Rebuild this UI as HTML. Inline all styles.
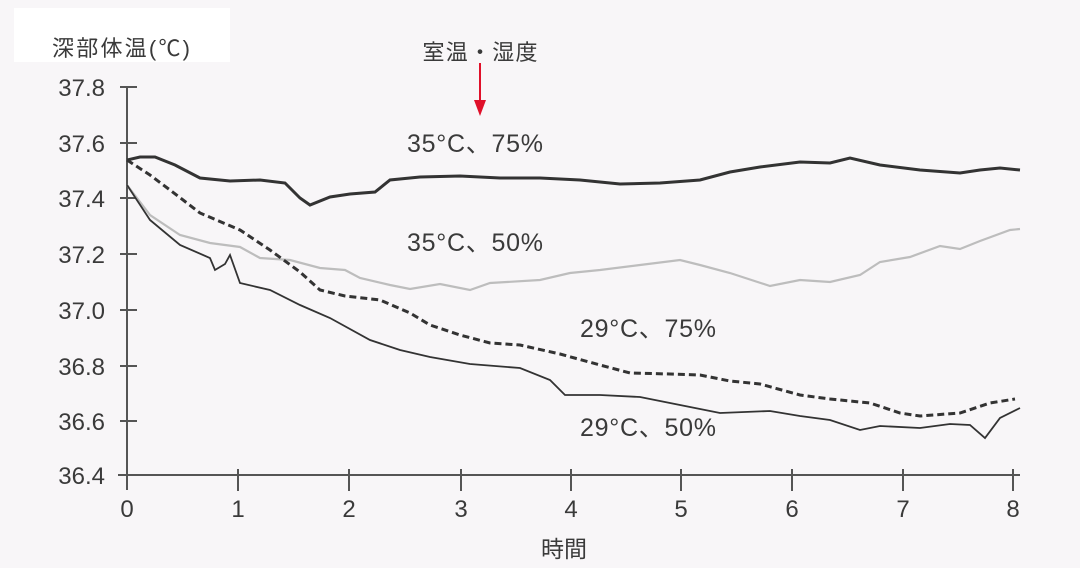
<!DOCTYPE html>
<html><head><meta charset="utf-8"><style>
html,body{margin:0;padding:0;background:#f8f6f8;}
svg{display:block;}
text{font-family:"Liberation Sans","Noto Sans CJK JP",sans-serif;fill:#3a3a3a;}
</style></head><body>
<svg width="1080" height="568" viewBox="0 0 1080 568" xmlns="http://www.w3.org/2000/svg">
<rect x="0" y="0" width="1080" height="568" fill="#f8f6f8"/>
<rect x="14" y="8" width="216" height="54" fill="#ffffff"/>
<text x="52" y="56" font-size="22" textLength="138">深部体温(℃)</text>
<g stroke="#555" stroke-width="2" fill="none">
<line x1="127" y1="87" x2="127" y2="490"/>
<line x1="118" y1="475" x2="1020" y2="475"/>
<line x1="120" y1="87" x2="137" y2="87"/>
<line x1="120" y1="143" x2="137" y2="143"/>
<line x1="120" y1="198" x2="137" y2="198"/>
<line x1="120" y1="254" x2="137" y2="254"/>
<line x1="120" y1="310" x2="137" y2="310"/>
<line x1="120" y1="366" x2="137" y2="366"/>
<line x1="120" y1="421" x2="137" y2="421"/>
<line x1="238" y1="469" x2="238" y2="491"/>
<line x1="349" y1="469" x2="349" y2="491"/>
<line x1="461" y1="469" x2="461" y2="491"/>
<line x1="571" y1="469" x2="571" y2="491"/>
<line x1="681" y1="469" x2="681" y2="491"/>
<line x1="792" y1="469" x2="792" y2="491"/>
<line x1="903" y1="469" x2="903" y2="491"/>
<line x1="1013" y1="469" x2="1013" y2="491"/>
</g>
<g font-size="24" text-anchor="end">
<text x="105" y="96">37.8</text>
<text x="105" y="152">37.6</text>
<text x="105" y="207">37.4</text>
<text x="105" y="263">37.2</text>
<text x="105" y="319">37.0</text>
<text x="105" y="375">36.8</text>
<text x="105" y="430">36.6</text>
<text x="105" y="484">36.4</text>
</g>
<g font-size="24" text-anchor="middle">
<text x="127" y="517">0</text>
<text x="238" y="517">1</text>
<text x="349" y="517">2</text>
<text x="461" y="517">3</text>
<text x="571" y="517">4</text>
<text x="681" y="517">5</text>
<text x="792" y="517">6</text>
<text x="903" y="517">7</text>
<text x="1013" y="517">8</text>
<text x="564" y="557" font-size="23">時間</text>
<text x="480" y="60" font-size="22" textLength="115">室温・湿度</text>
<text x="475" y="152" font-size="25" textLength="136">35°C、75%</text>
<text x="475" y="251" font-size="25" textLength="136">35°C、50%</text>
<text x="648" y="337" font-size="25" textLength="136">29°C、75%</text>
<text x="648" y="436" font-size="25" textLength="136">29°C、50%</text>
</g>
<line x1="480" y1="63" x2="480" y2="105" stroke="#e0102a" stroke-width="2"/>
<polygon points="474,100 486,100 480,116" fill="#e0102a"/>
<polyline fill="none" stroke="#bdbdbd" stroke-width="2.2" points="127,185 150,215 180,235 210,243 240,247 260,258 290,260 320,268 345,270 360,278 390,285 410,289 440,284 470,290 490,283 540,280 570,273 600,270 640,265 680,260 700,265 730,273 770,286 800,280 830,282 860,275 880,262 910,257 940,246 960,249 980,241 1010,230 1020,229"/>
<polyline fill="none" stroke="#333" stroke-width="3" points="127,160 140,157 155,157 175,165 200,178 230,181 260,180 285,183 300,198 310,205 330,197 350,194 375,192 390,180 420,177 460,176 500,178 540,178 580,180 620,184 660,183 700,180 730,172 760,167 800,162 830,163 850,158 880,165 920,170 960,173 980,170 1000,168 1020,170"/>
<polyline fill="none" stroke="#333" stroke-width="3" stroke-dasharray="7,4" points="127,160 150,175 170,190 200,213 240,230 270,250 300,272 320,290 345,296 380,300 410,313 430,325 460,335 490,343 520,345 560,354 600,365 630,373 670,374 700,375 730,381 760,384 800,395 830,399 870,403 900,413 920,416 960,413 990,403 1015,399"/>
<polyline fill="none" stroke="#333" stroke-width="1.8" points="127,185 150,220 180,245 210,258 215,270 225,264 230,255 240,283 270,290 300,305 330,318 370,340 400,350 430,357 470,364 520,368 550,380 565,395 600,395 640,397 680,405 720,413 770,411 800,416 830,420 860,430 880,426 920,428 950,424 970,425 985,438 1000,418 1020,408"/>
</svg>
</body></html>
